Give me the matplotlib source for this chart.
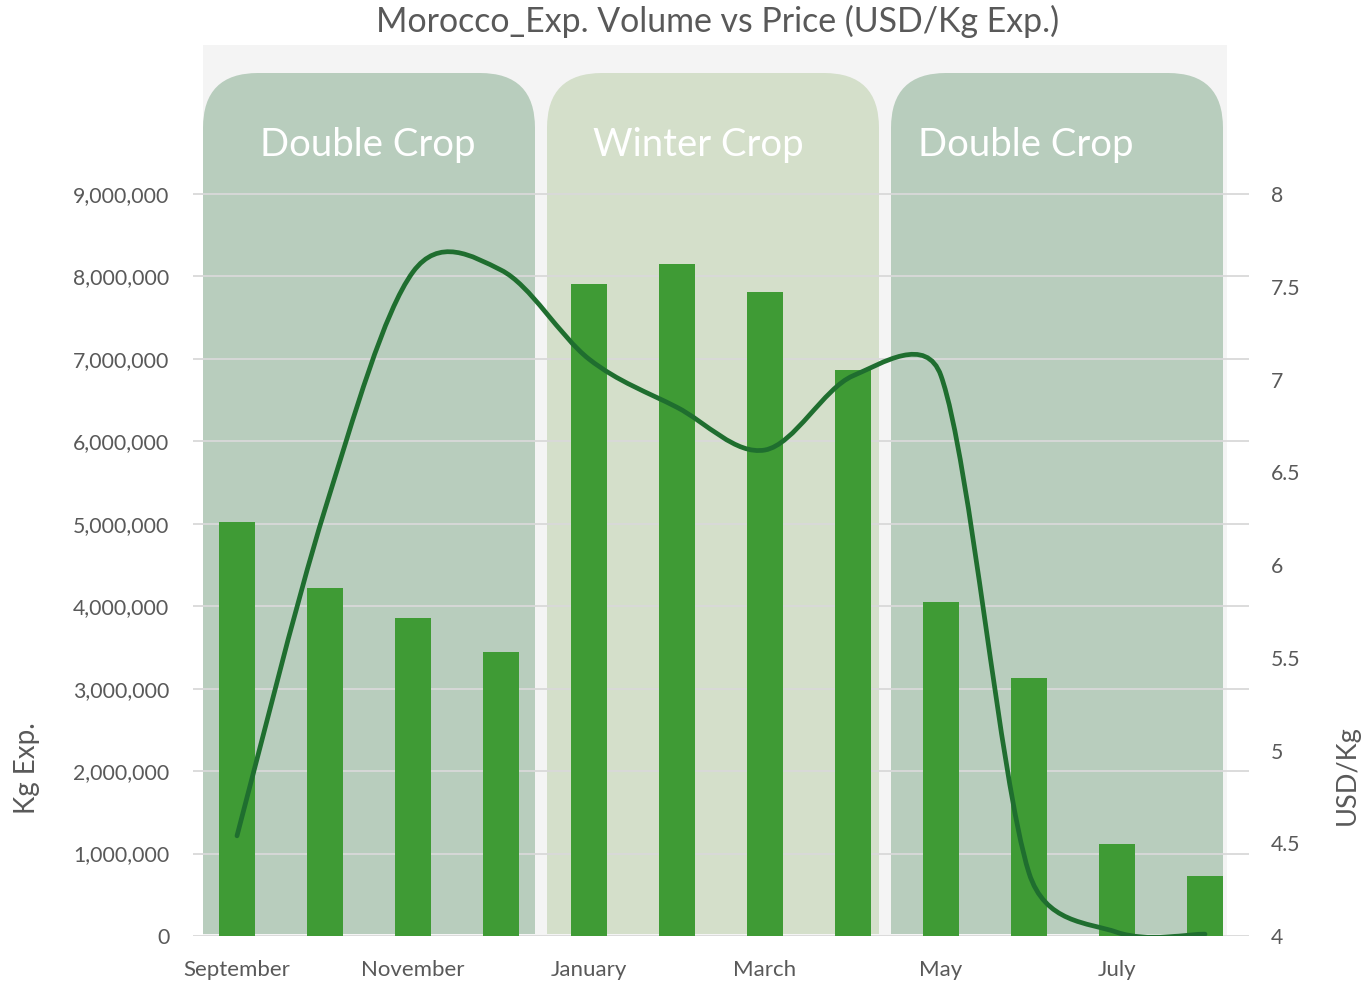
import matplotlib.pyplot as plt
import numpy as np
from matplotlib.patches import FancyBboxPatch, Rectangle, PathPatch
from matplotlib.path import Path
from matplotlib.ticker import FuncFormatter

plt.rcParams['font.family'] = ['Lato', 'DejaVu Sans']

# data
months = ['September', 'October', 'November', 'December', 'January', 'February',
          'March', 'April', 'May', 'June', 'July', 'August']
volume_kg = [5020000, 4220000, 3860000, 3440000, 7910000, 8150000,
             7810000, 6870000, 4050000, 3130000, 1120000, 730000]
price_usd = [4.54, 6.30, 7.58, 7.59, 7.11, 6.85, 6.62, 7.02, 7.02, 4.34, 4.02, 4.01]
seasons = ['Double Crop', 'Winter Crop', 'Double Crop']

bar_color = '#3f9b35'
line_color = '#1f6e2f'
season_colors = ['#b8cdbd', '#d4dfca', '#b8cdbd']
text_color = '#595959'

W, H = 1362, 982
fig = plt.figure(figsize=(W / 100, H / 100), dpi=100)

# background decoration in pixel coordinates
bg = fig.add_axes([0, 0, 1, 1])
bg.set_xlim(0, W)
bg.set_ylim(H, 0)
bg.axis('off')
bg.add_patch(Rectangle((203, 45), 1024, 891, facecolor='#f4f4f4', edgecolor='none'))
panel_x = [203, 547, 891]
label_x = [368, 698, 1026]
panel_w = 332
panel_top, panel_bot, radius = 73, 934, 55
for px, lx, name, col in zip(panel_x, label_x, seasons, season_colors):
    bg.add_patch(FancyBboxPatch((px, panel_top), panel_w, panel_bot - panel_top,
                                boxstyle=f'round,pad=0,rounding_size={radius}',
                                facecolor=col, edgecolor='none'))
    # square off the bottom corners
    bg.add_patch(Rectangle((px, panel_top + radius + 5), panel_w,
                           panel_bot - panel_top - radius - 5,
                           facecolor=col, edgecolor='none'))
    bg.text(lx, 145, name, color='white', fontsize=27.5,
            ha='center', va='center')

# main axes
left, right, top, bottom = 193, 1249, 45, 936
ax = fig.add_axes([left / W, (H - bottom) / H, (right - left) / W, (bottom - top) / H])
ax.patch.set_alpha(0)
x = np.arange(len(months))
ax.bar(x, volume_kg, width=0.41, color=bar_color, zorder=3)
ax.set_xlim(-0.5, len(months) - 0.5)
ax.set_ylim(0, 9e6 * (bottom - top) / (bottom - 194))
ax.set_yticks(np.arange(0, 9e6 + 1, 1e6))
ax.yaxis.set_major_formatter(FuncFormatter(lambda v, p: f'{int(v):,}'))
ax.set_xticks(x[::2])
ax.set_xticklabels(months[::2])
ax.grid(axis='y', color='#d9d9d9', linewidth=1.3)
ax.set_axisbelow(True)
for s in ax.spines.values():
    s.set_visible(False)
ax.tick_params(axis='y', length=0, pad=17, labelsize=15.3, labelcolor=text_color)
ax.tick_params(axis='x', length=0, pad=17, labelsize=16, labelcolor=text_color)

# price on secondary axis
ax2 = ax.twinx()
ax2.set_ylim(4, 4 + 4 * (bottom - top) / (bottom - 194))
ax2.set_yticks(np.arange(4, 8.01, 0.5))
ax2.yaxis.set_major_formatter(FuncFormatter(lambda v, p: f'{v:g}'))
for s in ax2.spines.values():
    s.set_visible(False)
ax2.tick_params(axis='y', length=0, pad=16, labelsize=15.3, labelcolor=text_color)

# Excel-style smoothing: Bezier with 1/6 tangents, capped at half the segment
pts = np.column_stack([x, price_usd]).astype(float)
scr = ax2.transData.transform(pts)
n = len(pts)
verts = [pts[0]]
codes = [Path.MOVETO]
for i in range(n - 1):
    i0, i1, i2, i3 = max(i - 1, 0), i, i + 1, min(i + 2, n - 1)
    d12 = np.hypot(*(scr[i2] - scr[i1]))
    d02 = np.hypot(*(scr[i2] - scr[i0]))
    d13 = np.hypot(*(scr[i3] - scr[i1]))
    f1 = 1 / 6 if d02 / 6 <= d12 / 2 else d12 / (2 * d02)
    f2 = 1 / 6 if d13 / 6 <= d12 / 2 else d12 / (2 * d13)
    verts += [pts[i1] + (pts[i2] - pts[i0]) * f1,
              pts[i2] - (pts[i3] - pts[i1]) * f2, pts[i2]]
    codes += [Path.CURVE4] * 3
ax2.add_patch(PathPatch(Path(verts, codes), facecolor='none', edgecolor=line_color,
                        linewidth=3.4, capstyle='round', zorder=4))

fig.text(718 / W, 1 - 21 / H, 'Morocco_Exp. Volume vs Price (USD/Kg Exp.)',
         ha='center', va='center', fontsize=24.4, color=text_color)
fig.text(27 / W, 1 - 768 / H, 'Kg Exp.', rotation=90, ha='center', va='center',
         fontsize=20, color=text_color)
fig.text(1347 / W, 1 - 775 / H, 'USD/Kg', rotation=90, ha='center', va='center',
         fontsize=19.5, color=text_color)

fig.savefig('out.png', dpi=100)
